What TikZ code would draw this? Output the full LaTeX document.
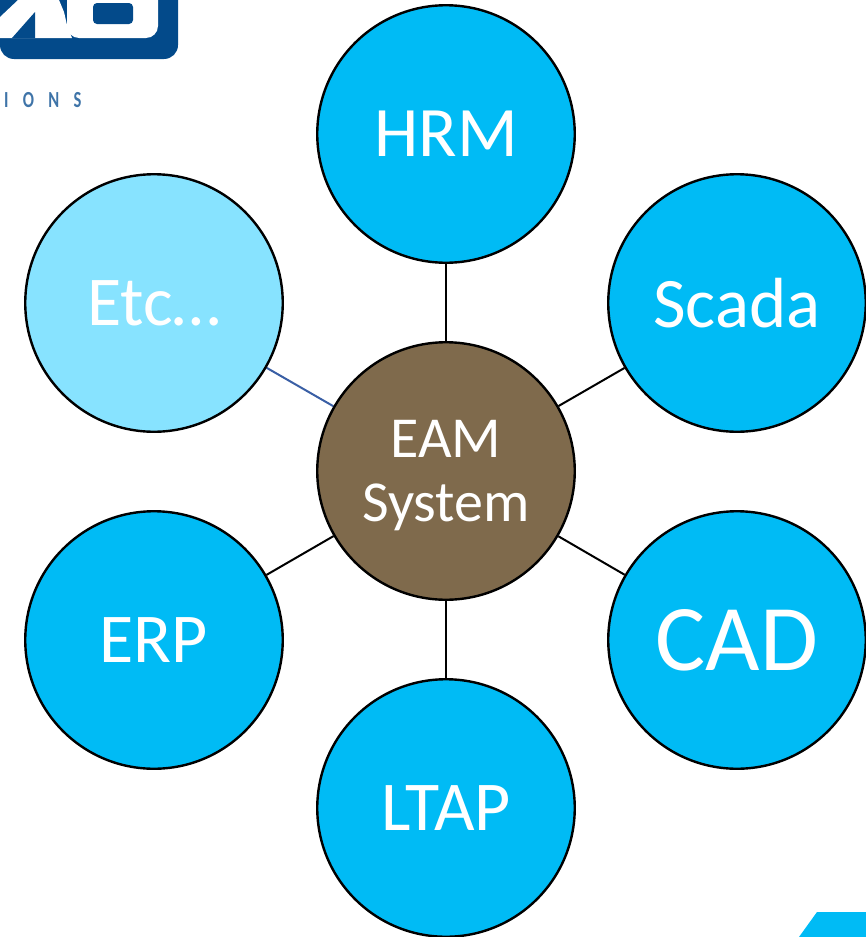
\documentclass[tikz,border=0pt]{standalone}
\usepackage{fontspec}
\setmainfont{Carlito}
\newfontfamily\logofont[LetterSpace=62,FakeStretch=0.72]{Carlito Bold}
\usepackage{tikz}
\pgfdeclarelayer{bg}
\pgfsetlayers{bg,main}
\definecolor{sysblue}{HTML}{00BBF5}
\definecolor{sysbrown}{HTML}{7F6A4C}
\definecolor{syslight}{HTML}{87E3FF}
\definecolor{logoblue}{HTML}{034A8A}
\definecolor{logotext}{HTML}{3F74A8}
\definecolor{linkblue}{HTML}{3A5FA5}
\tikzset{
  sysnode/.style={circle, draw=black, line width=2.4pt, minimum size=257.5pt, inner sep=0pt, text=white, align=center, fill=sysblue},
  link/.style={line width=2pt, draw=black},
}
\newcommand{\fs}[1]{\fontsize{#1pt}{#1pt}\selectfont}
\begin{document}
\begin{tikzpicture}[x=1pt, y=-1pt]
        \useasboundingbox (0,0) rectangle (866,937);
        % logo
        \fill [logoblue] (0,0) -- (178,0) [rounded corners=14pt] -- (178,59) -- (0,59) [sharp corners] -- cycle;
        \fill [white] (0,17) -- (18,0) -- (59,0) -- (64,12) -- (67,25) -- (72,38) -- (0,38) -- cycle;
        \fill [logoblue] (12,38) -- (35,12) -- (35,38) -- cycle;
        \fill [white] (67,0) [rounded corners=12pt] -- (67,38) -- (158,38) [sharp corners] -- (158,0) -- cycle;
        \fill [logoblue, rounded corners=4pt] (93,3) rectangle (133,24);
        \node (logotxt) [anchor=west, inner sep=0pt, text=logotext, font=\logofont\fs{23}] at (4,100) {IONS};
        % corner
        \fill [sysblue] (799,937) -- (817,912) -- (866,912) -- (866,937) -- cycle;
        % systems
        \node (v0) [sysnode, fill=sysbrown, font=\fs{58}] at (446,471) {\rule{0pt}{46pt}EAM\\[6pt]System};
        \node (v1) [sysnode, font=\fs{71}] at (446,134) {HRM};
        \node (v2) [sysnode, font=\fs{71}] at (737,303) {Scada};
        \node (v3) [sysnode, font=\fs{94}] at (737,640) {CAD};
        \node (v4) [sysnode, font=\fs{70}] at (446,808) {LTAP};
        \node (v5) [sysnode, font=\fs{70}] at (154,640) {ERP};
        \node (v6) [sysnode, fill=syslight, font=\fs{70}] at (154,303) {Etc…};
        \begin{pgfonlayer}{bg}
                \draw (v0) edge [link] (v1);
                \draw (v0) edge [link] (v2);
                \draw (v0) edge [link] (v3);
                \draw (v0) edge [link] (v4);
                \draw (v0) edge [link] (v5);
                \draw (v0) edge [link, draw=linkblue] (v6);
        \end{pgfonlayer}
\end{tikzpicture}
\end{document}
